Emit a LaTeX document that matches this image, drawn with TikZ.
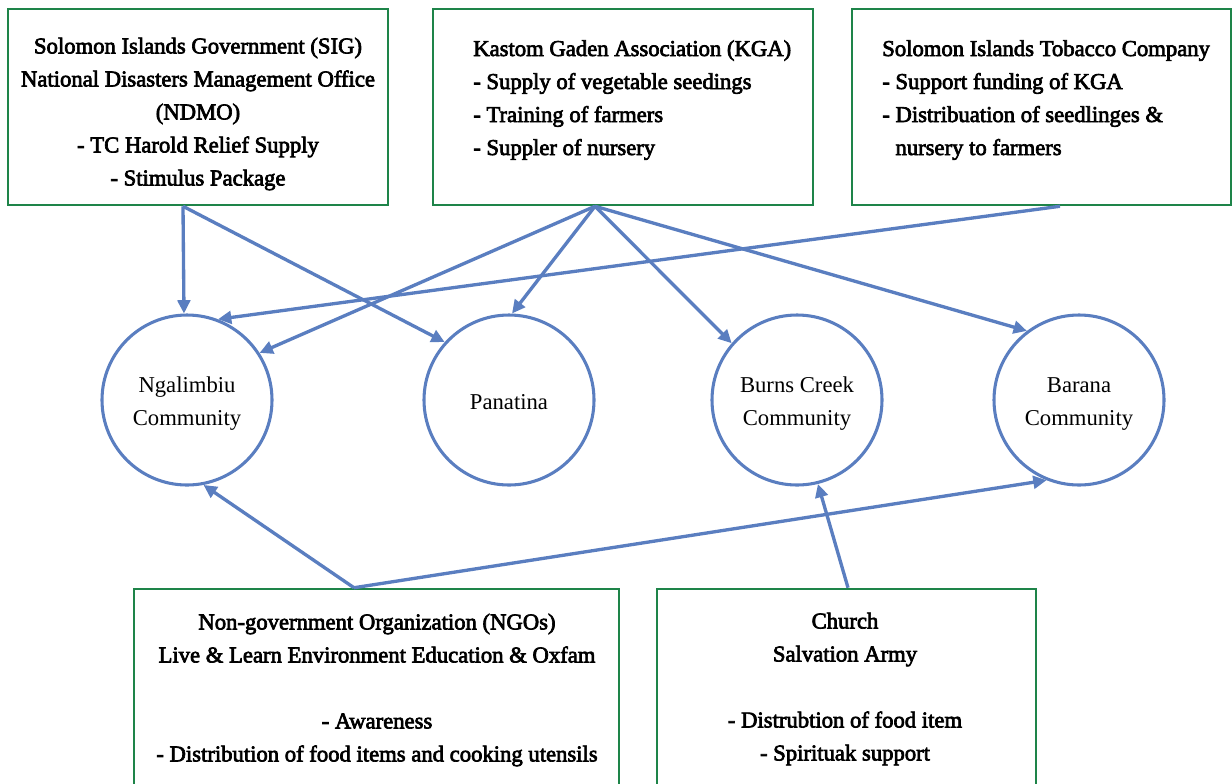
\documentclass[tikz,border=0pt]{standalone}
\usepackage{fontspec}
\setmainfont{Liberation Serif}
\newfontfamily\boxfont{Liberation Serif}[FakeBold=3]
\usetikzlibrary{calc,arrows.meta}
\definecolor{boxgreen}{HTML}{1E8449}
\definecolor{arrowblue}{HTML}{5A7EC0}
\begin{document}
\begin{tikzpicture}[x=0.75pt,y=-0.75pt,
  orgbox/.style={draw=boxgreen,line width=1.9pt,rectangle,inner sep=0pt},
  orgtext/.style={font=\boxfont\fontsize{17}{24.75}\selectfont,inner sep=0pt},
  commnode/.style={draw=arrowblue,line width=2.3pt,circle,inner sep=0pt,minimum size=127.5pt},
  commtext/.style={align=center,inner sep=0pt,font=\fontsize{17}{24.75}\selectfont},
  link/.style={draw=arrowblue,line width=2.5pt,-{Triangle[length=10pt,width=9.5pt]}}]
\useasboundingbox (0,0) rectangle (1232,783);
\clip (0,0) rectangle (1232,783);
% organisation boxes
\node[orgbox,minimum width=285pt,minimum height=147pt] (sig) at (198,107) {};
\node[orgbox,minimum width=285pt,minimum height=147pt] (kga) at (623,107) {};
\node[orgbox,minimum width=284.25pt,minimum height=147pt] (tob) at (1041.5,107) {};
\node[orgbox,minimum width=363.75pt,minimum height=166.5pt] (ngo) at (376.5,700) {};
\node[orgbox,minimum width=284.25pt,minimum height=166.5pt] (church) at (846.5,700) {};
% box texts
\node[orgtext,align=center] (sigt) at (198,114) {Solomon Islands Government (SIG)\\National Disasters Management Office\\(NDMO)\\- TC Harold Relief Supply\\- Stimulus Package};
\node[orgtext,align=left,anchor=north west] (kgat) at (473,40) {Kastom Gaden Association (KGA)\\- Supply of vegetable seedings\\- Training of farmers\\- Suppler of nursery};
\node[orgtext,align=left,anchor=north west] (tobt) at (882,40) {Solomon Islands Tobacco Company\\- Support funding of KGA\\- Distribuation of seedlinges \&\\\phantom{- }nursery to farmers};
\node[orgtext,align=center] (ngot) at (377,690) {Non-government Organization (NGOs)\\Live \& Learn Environment Education \& Oxfam\\[24.75pt]- Awareness\\- Distribution of food items and cooking utensils};
\node[orgtext,align=center] (churcht) at (845,689) {Church\\Salvation Army\\[24.75pt]- Distrubtion of food item\\- Spirituak support};
% communities
\node[commnode] (ng) at (187,400) {};
\node[commnode] (pan) at (509,400) {};
\node[commnode] (bc) at (797,400) {};
\node[commnode] (bar) at (1079,400) {};
\node[commtext] (ngt) at (187,404) {Ngalimbiu\\Community};
\node[commtext] (pant) at (509,402) {Panatina};
\node[commtext] (bct) at (797,404) {Burns Creek\\Community};
\node[commtext] (bart) at (1079,404) {Barana\\Community};
% connectors
\coordinate (sigout) at ($(sig.south)+(-15,0)$);
\coordinate (kgaout) at ($(kga.south)+(-28,0)$);
\coordinate (tobout) at ($(tob.south)+(18.5,0)$);
\coordinate (ngoout) at ($(ngo.north)+(-22.5,0)$);
\coordinate (churchout) at ($(church.north)+(1.5,0)$);
\draw[link] (sigout) -- (ng.92);
\draw[link] (sigout) -- (pan.138);
\draw[link] (kgaout) -- (ng.33);
\draw[link] (kgaout) -- (pan.88);
\draw[link] (kgaout) -- (bc.139);
\draw[link] (kgaout) -- (bar.127);
\draw[link] (tobout) -- (ng.69);
\draw[link] (ngoout) -- (ng.-79);
\draw[link] (ngoout) -- (bar.-112);
\draw[link] (churchout) -- (bc.-76);
\end{tikzpicture}
\end{document}
